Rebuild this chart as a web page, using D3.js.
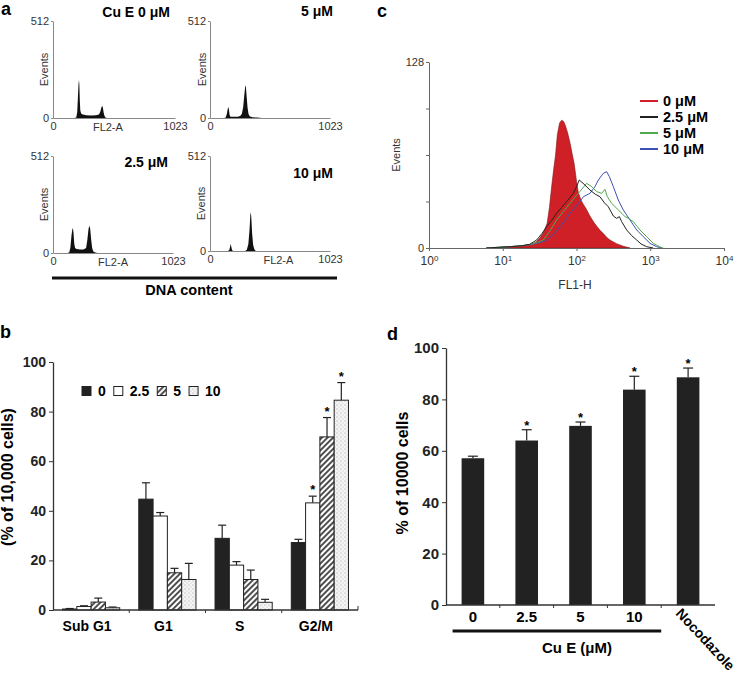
<!DOCTYPE html>
<html><head><meta charset="utf-8">
<script src="https://cdn.jsdelivr.net/npm/d3@7/dist/d3.min.js"></script>
<style>body{margin:0;background:#fff}svg{display:block}</style>
</head><body>
<svg width="745" height="674"></svg>
<script>
// ================= DATA =================
// Panel a: DNA histograms, [FL2-A channel, events]
const hist0 = [[180,0],[195,3],[203,30],[209,110],[214,180],[218,200],[221,175],[225,90],[229,40],[236,24],[250,18],[280,15],[320,13],[360,14],[385,18],[396,32],[404,52],[410,62],[414,63],[419,52],[425,28],[432,10],[440,3],[452,0]];
const hist5 = [[120,0],[134,3],[144,22],[151,48],[156,58],[161,46],[167,16],[174,6],[200,6],[235,7],[258,10],[272,22],[283,58],[293,125],[301,172],[306,165],[313,110],[320,55],[328,22],[338,9],[360,4],[400,2],[440,0]];
const hist25 = [[120,0],[138,3],[148,28],[158,95],[166,128],[170,131],[175,105],[181,50],[188,26],[200,21],[230,18],[260,19],[282,26],[293,70],[303,128],[311,144],[317,128],[325,72],[334,26],[344,8],[360,2],[380,0]];
const hist10 = [[150,0],[164,4],[171,22],[176,39],[181,24],[188,5],[196,0],[300,0],[314,7],[327,38],[337,115],[344,195],[348,209],[352,182],[359,95],[368,32],[378,9],[390,0]];
const aTitles = ["Cu E 0 μM", "5 μM", "2.5 μM", "10 μM"];
const aXTicks = [0, 1023];
const aYTicks = [0, 512];

// Panel b: cell-cycle distribution (% of 10,000 cells)
const phases = ["Sub G1", "G1", "S", "G2/M"];
const doseB = ["0", "2.5", "5", "10"];
const b0 = [0.4, 44.7, 28.9, 27.2];
const b25 = [1.4, 37.9, 18.1, 43.2];
const b5 = [3.2, 15.0, 12.3, 69.8];
const b10 = [0.9, 12.3, 3.1, 84.6];
const b0Err = [0.2, 6.6, 5.3, 1.3];
const b25Err = [0.3, 1.4, 1.4, 2.7];
const b5Err = [1.6, 1.8, 3.8, 7.8];
const b10Err = [0.3, 6.5, 1.2, 7.1];
const bStar = [[false,false,false,false],[false,false,false,true],[false,false,false,true],[false,false,false,true]];
const bTicks = [0, 20, 40, 60, 80, 100];

// Panel c: FL1-H histograms, [FL1-H, events]
const cRed = [[6,0],[8,0.4],[11,0.8],[15,1.2],[20,1.8],[24,2.5],[28,4],[32,7],[36,11],[40,17],[43,28],[46,42],[49,54],[52,64],[55,78],[59,86],[63,88],[67,87],[71,84],[76,79],[82,72],[88,64],[93,58],[100,46],[106,38],[115,33],[124,30],[135,27],[152,22],[170,18],[188,15],[210,12],[231,10],[260,7],[284,5.5],[349,3],[431,1.2],[531,0]];
const cBlack = [[6,0],[9,0.5],[13,1],[18,1.5],[23,2.5],[28.8,5.5],[34,10],[39.4,14.7],[46,19],[53.8,23.9],[63,28],[73.6,32],[90.6,37.6],[100,42.2],[109,46.8],[130,43.4],[152,39.9],[180,37],[208,35.3],[240,31],[270,28.4],[316,22],[351,20.4],[381,21.6],[410,18.1],[479,12.4],[560,8.5],[655,5.5],[750,2.8],[894,0.9],[1101,0]];
const cGreen = [[6,0],[9,0.5],[13,1],[18,1.6],[24,2.5],[30,4],[35.5,5.5],[44,12],[53.8,19.3],[66,25],[81.7,30.7],[95,35],[111,38.8],[125,42],[137,44.5],[161,42.2],[188,38.8],[219,37.6],[243,40.4],[262,35.3],[300,30.7],[369,26.2],[455,21.6],[505,20.4],[590,18.1],[726,12.4],[894,7.8],[1101,3.2],[1355,0.7],[1503,0]];
const cBlue = [[6,0],[9,0.4],[13,0.9],[18,1.5],[25,2.5],[32,3.8],[39.4,5.5],[50,10],[59.7,14.7],[70,19],[81.7,23.9],[106,30.7],[124,35.3],[152,37.6],[178,42.2],[198,46.8],[231,51.4],[257,52.5],[279,49.1],[316,42.2],[369,33],[431,26.2],[531,19.3],[655,12.4],[805,7.8],[993,3.2],[1222,0.9],[1430,0]];
const cLegend = ["0 μM", "2.5 μM", "5 μM", "10 μM"];
const cXTicks = [1, 10, 100, 1000, 10000];
const cYTicks = [0, 32, 64, 96, 128];

// Panel d: % of 10000 cells in G2/M
const dCats = ["0", "2.5", "5", "10", "Nocodazole"];
const dVals = [57.1, 64.0, 69.7, 83.8, 88.6];
const dErr = [0.8, 4.2, 1.5, 5.2, 3.6];
const dStar = [false, true, true, true, true];
const dTicks = [0, 20, 40, 60, 80, 100];

// ================= DRAW =================
const FONT = "'Liberation Sans', Arial, Helvetica, sans-serif";
const svg = d3.select("svg").attr("font-family", FONT);
svg.append("rect").attr("width", 745).attr("height", 674).attr("fill", "#fff");

const defs = svg.append("defs");
const hatch = defs.append("pattern").attr("id", "hatch").attr("patternUnits", "userSpaceOnUse")
  .attr("width", 4).attr("height", 4).attr("patternTransform", "rotate(45)");
hatch.append("rect").attr("width", 4).attr("height", 4).attr("fill", "#fff");
hatch.append("line").attr("x1", 1).attr("y1", 0).attr("x2", 1).attr("y2", 4).attr("stroke", "#222").attr("stroke-width", 1.6);
const dots = defs.append("pattern").attr("id", "dots").attr("patternUnits", "userSpaceOnUse").attr("width", 4).attr("height", 4);
dots.append("rect").attr("width", 4).attr("height", 4).attr("fill", "#f4f4f4");
dots.append("circle").attr("cx", 1).attr("cy", 1).attr("r", 0.6).attr("fill", "#999");
dots.append("circle").attr("cx", 3).attr("cy", 3).attr("r", 0.5).attr("fill", "#bbb");

function styleAxis(a, color, size, weight, textColor) {
  a.attr("font-family", FONT).attr("font-size", size);
  a.select(".domain").attr("stroke", color);
  a.selectAll(".tick line").attr("stroke", color);
  a.selectAll(".tick text").attr("fill", textColor || "#222").attr("font-weight", weight || "normal");
}

// panel letters
[["a", 1, 15], ["b", 0, 338], ["c", 377, 17], ["d", 387, 340]].forEach(([t, x, y]) =>
  svg.append("text").attr("x", x).attr("y", y).attr("font-size", 18).attr("font-weight", "bold").text(t));

// ---------- Panel a ----------
const aLayout = [
  {data: hist0, xr: [53, 175], yr: [118, 21], tx: 170, ty: 17, ex: 48, fl: 0.45},
  {data: hist5, xr: [210, 330], yr: [118, 21], tx: 333, ty: 16, ex: 206, fl: null},
  {data: hist25, xr: [53, 173], yr: [253, 156], tx: 168, ty: 167, ex: 48, fl: 0.5},
  {data: hist10, xr: [210, 330], yr: [251, 156], tx: 333, ty: 178, ex: 205, fl: 0.57}
];
aLayout.forEach((p, i) => {
  const x = d3.scaleLinear().domain([0, 1023]).range(p.xr);
  const y = d3.scaleLinear().domain([0, 512]).range(p.yr);
  const g = svg.append("g");
  g.append("path").datum(p.data).attr("fill", "#111")
    .attr("d", d3.area().x(d => x(d[0])).y0(y(0)).y1(d => y(d[1])));
  const ya = g.append("g").attr("transform", `translate(${p.xr[0]},0)`)
    .call(d3.axisLeft(y).tickValues(aYTicks).tickSize(2).tickSizeOuter(0).tickPadding(2).tickFormat(d3.format("d")));
  styleAxis(ya, "#888", 11, "normal", "#333");
  const xa = g.append("g").attr("transform", `translate(0,${p.yr[0]})`)
    .call(d3.axisBottom(x).tickValues(aXTicks).tickSize(0).tickPadding(4).tickFormat(d3.format("d")));
  styleAxis(xa, "#888", 11, "normal", "#333");
  g.append("text").attr("x", p.tx).attr("y", p.ty).attr("text-anchor", "end")
    .attr("font-size", 14).attr("font-weight", "bold").text(aTitles[i]);
  g.append("text").attr("transform", `translate(${p.ex},${(p.yr[0] + p.yr[1]) / 2}) rotate(-90)`)
    .attr("text-anchor", "middle").attr("font-size", 11).attr("fill", "#333").text("Events");
  if (p.fl !== null) {
    g.append("text").attr("x", p.xr[0] + p.fl * (p.xr[1] - p.xr[0])).attr("y", p.yr[0] + 13)
      .attr("text-anchor", "middle").attr("font-size", 11).attr("fill", "#333").text("FL2-A");
  }
});
svg.append("line").attr("x1", 52).attr("x2", 337).attr("y1", 278).attr("y2", 278).attr("stroke", "#111").attr("stroke-width", 3);
svg.append("text").attr("x", 189).attr("y", 295).attr("text-anchor", "middle").attr("font-size", 14.5)
  .attr("font-weight", "bold").text("DNA content");

// ---------- Panel c ----------
{
  const x = d3.scaleLog().domain([1, 10000]).range([429, 724]);
  const y = d3.scaleLinear().domain([0, 128]).range([248, 62]);
  const g = svg.append("g");
  g.append("path").datum(cRed).attr("fill", "#cf2027").attr("stroke", "#7a1515").attr("stroke-width", 0.6)
    .attr("d", d3.area().x(d => x(d[0])).y0(y(0)).y1(d => y(d[1])));
  const line = d3.line().x(d => x(d[0])).y(d => y(d[1]));
  [[cBlue, "#3f4fb0"], [cGreen, "#4fa84a"], [cBlack, "#222"]].forEach(([d, c]) =>
    g.append("path").datum(d).attr("fill", "none").attr("stroke", c).attr("stroke-width", 1).attr("d", line));
  const ya = g.append("g").attr("transform", "translate(429,0)")
    .call(d3.axisLeft(y).tickValues(cYTicks).tickSize(3).tickSizeOuter(0).tickPadding(2)
      .tickFormat(d => (d === 0 || d === 128) ? d : ""));
  styleAxis(ya, "#666", 11, "normal", "#333");
  const xa = g.append("g").attr("transform", "translate(0,248)")
    .call(d3.axisBottom(x).tickValues(cXTicks).tickSize(3).tickSizeOuter(0).tickPadding(5).tickFormat(() => ""));
  styleAxis(xa, "#666", 12, "normal", "#333");
  xa.selectAll(".tick text").each(function (d) {
    const t = d3.select(this);
    t.append("tspan").text("10");
    t.append("tspan").attr("dy", "-0.45em").attr("font-size", 8).text(Math.round(Math.log10(d)));
  });
  g.append("text").attr("transform", "translate(400,155) rotate(-90)").attr("text-anchor", "middle")
    .attr("font-size", 11).attr("fill", "#333").text("Events");
  g.append("text").attr("x", 575).attr("y", 289).attr("text-anchor", "middle")
    .attr("font-size", 12).attr("fill", "#333").text("FL1-H");
  const lc = ["#cf2027", "#222", "#4fa84a", "#3f4fb0"];
  const ly = d3.scalePoint().domain(cLegend).range([101, 149]);
  cLegend.forEach((t, i) => {
    g.append("line").attr("x1", 640).attr("x2", 658).attr("y1", ly(t)).attr("y2", ly(t))
      .attr("stroke", lc[i]).attr("stroke-width", 2);
    g.append("text").attr("x", 663).attr("y", ly(t) + 5).attr("font-size", 14.5).attr("font-weight", "bold").text(t);
  });
}

// ---------- Panel b ----------
{
  const x0 = d3.scaleBand().domain(phases).range([53, 358]).paddingInner(0.25).paddingOuter(0.125);
  const x1 = d3.scaleBand().domain(doseB).range([0, x0.bandwidth()]);
  const y = d3.scaleLinear().domain([0, 100]).range([610, 362]);
  const series = [
    {key: "0", vals: b0, err: b0Err, fill: "#222"},
    {key: "2.5", vals: b25, err: b25Err, fill: "#fff"},
    {key: "5", vals: b5, err: b5Err, fill: "url(#hatch)"},
    {key: "10", vals: b10, err: b10Err, fill: "url(#dots)"}
  ];
  const g = svg.append("g");
  series.forEach((s, si) => {
    phases.forEach((ph, pi) => {
      const bx = x0(ph) + x1(s.key), bw = x1.bandwidth(), cx = bx + bw / 2;
      const top = y(s.vals[pi] + s.err[pi]);
      g.append("line").attr("x1", cx).attr("x2", cx).attr("y1", y(s.vals[pi])).attr("y2", top)
        .attr("stroke", "#222").attr("stroke-width", 1.2);
      g.append("line").attr("x1", cx - 4).attr("x2", cx + 4).attr("y1", top).attr("y2", top)
        .attr("stroke", "#222").attr("stroke-width", 1.2);
      g.append("rect").attr("x", bx).attr("width", bw).attr("y", y(s.vals[pi]))
        .attr("height", y(0) - y(s.vals[pi])).attr("fill", s.fill).attr("stroke", "#222").attr("stroke-width", 1);
      if (bStar[si][pi]) g.append("text").attr("x", cx).attr("y", top - 2).attr("text-anchor", "middle")
        .attr("font-size", 13).attr("font-weight", "bold").text("*");
    });
  });
  const ya = g.append("g").attr("transform", "translate(53,0)")
    .call(d3.axisLeft(y).tickValues(bTicks).tickSize(4).tickSizeOuter(0).tickPadding(3));
  styleAxis(ya, "#333", 14, "bold", "#222");
  ya.select(".domain").attr("stroke-width", 1.3);
  g.append("line").attr("x1", 53).attr("x2", 358).attr("y1", 610).attr("y2", 610).attr("stroke", "#333").attr("stroke-width", 1.3);
  phases.forEach((ph, i) => {
    const bx = i === 0 ? null : x0(ph) - x0.step() * x0.paddingInner() / 2;
    if (bx !== null) g.append("line").attr("x1", bx).attr("x2", bx).attr("y1", 610).attr("y2", 613).attr("stroke", "#333");
    g.append("text").attr("x", x0(ph) + x0.bandwidth() / 2 - 4).attr("y", 631).attr("text-anchor", "middle")
      .attr("font-size", 14).attr("font-weight", "bold").text(ph);
  });
  g.append("line").attr("x1", 358).attr("x2", 358).attr("y1", 606).attr("y2", 610).attr("stroke", "#333");
  g.append("text").attr("transform", "translate(13,477) rotate(-90)").attr("text-anchor", "middle")
    .attr("font-size", 16).attr("font-weight", "bold").text("(% of 10,000 cells)");
  // legend
  let lx = 82;
  series.forEach(s => {
    g.append("rect").attr("x", lx).attr("y", 386.5).attr("width", 9).attr("height", 9)
      .attr("fill", s.fill).attr("stroke", "#222").attr("stroke-width", 1);
    lx += 16;
    const t = g.append("text").attr("x", lx).attr("y", 396).attr("font-size", 14).attr("font-weight", "bold").text(s.key);
    lx += t.node().getComputedTextLength() + 8;
  });
}

// ---------- Panel d ----------
{
  const x = d3.scaleBand().domain(dCats).range([446, 715]).paddingInner(0.58).paddingOuter(0.29);
  const y = d3.scaleLinear().domain([0, 100]).range([605, 348]);
  const g = svg.append("g");
  dCats.forEach((c, i) => {
    const bx = x(c), bw = x.bandwidth(), cx = bx + bw / 2, top = y(dVals[i] + dErr[i]);
    g.append("line").attr("x1", cx).attr("x2", cx).attr("y1", y(dVals[i])).attr("y2", top).attr("stroke", "#222").attr("stroke-width", 1.2);
    g.append("line").attr("x1", cx - 5).attr("x2", cx + 5).attr("y1", top).attr("y2", top).attr("stroke", "#222").attr("stroke-width", 1.2);
    g.append("rect").attr("x", bx).attr("width", bw).attr("y", y(dVals[i])).attr("height", y(0) - y(dVals[i])).attr("fill", "#222");
    if (dStar[i]) g.append("text").attr("x", cx).attr("y", top).attr("text-anchor", "middle")
      .attr("font-size", 13).attr("font-weight", "bold").text("*");
    if (i > 0) {
      const b = bx - x.step() * x.paddingInner() / 2;
      g.append("line").attr("x1", b).attr("x2", b).attr("y1", 605).attr("y2", 608).attr("stroke", "#333");
    }
    if (c === "Nocodazole") {
      g.append("text").attr("transform", `translate(${cx - 13},614) rotate(47)`)
        .attr("font-size", 14).attr("font-weight", "bold").text(c);
    } else {
      g.append("text").attr("x", cx).attr("y", 622).attr("text-anchor", "middle")
        .attr("font-size", 15).attr("font-weight", "bold").text(c);
    }
  });
  const ya = g.append("g").attr("transform", "translate(446,0)")
    .call(d3.axisLeft(y).tickValues(dTicks).tickSize(4).tickSizeOuter(0).tickPadding(3));
  styleAxis(ya, "#333", 15, "bold", "#222");
  ya.select(".domain").attr("stroke-width", 1.3);
  g.append("line").attr("x1", 446).attr("x2", 715).attr("y1", 605).attr("y2", 605).attr("stroke", "#333").attr("stroke-width", 1.3);
  const ul0 = x("0") - 9, ul1 = x("Nocodazole") - x.step() * x.paddingInner() / 2;
  g.append("line").attr("x1", ul0).attr("x2", ul1).attr("y1", 631).attr("y2", 631).attr("stroke", "#111").attr("stroke-width", 3);
  g.append("text").attr("x", 577).attr("y", 653).attr("text-anchor", "middle").attr("font-size", 15)
    .attr("font-weight", "bold").text("Cu E (μM)");
  g.append("text").attr("transform", "translate(408,473) rotate(-90)").attr("text-anchor", "middle")
    .attr("font-size", 16).attr("font-weight", "bold").text("% of 10000 cells");
}
</script>
</body></html>
